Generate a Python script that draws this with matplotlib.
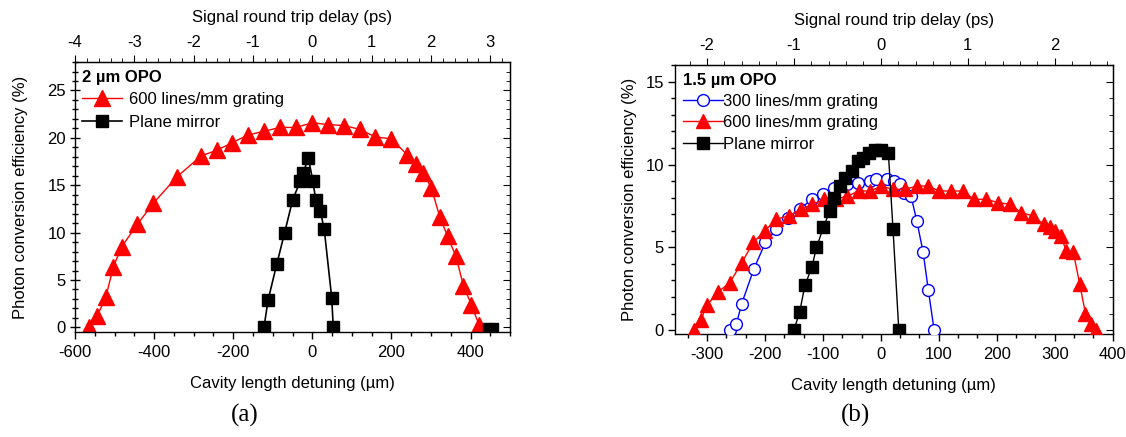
import matplotlib
matplotlib.use("Agg")
import matplotlib.pyplot as plt
from matplotlib.ticker import MultipleLocator, AutoMinorLocator, FixedLocator

plt.rcParams['font.family'] = ['Liberation Sans', 'DejaVu Sans']
plt.rcParams['font.size'] = 12
plt.rcParams['axes.unicode_minus'] = False

# ---- Panel (a): 2 um OPO ----
a_grating_x = [-565, -544, -522, -503, -482, -442, -402, -342, -281, -241, -202, -163, -122,
               -82, -41, 0, 39, 80, 120, 159, 200, 240, 261, 281, 301, 322, 342, 363, 382, 402, 422]
a_grating_y = [0.05, 1.2, 3.2, 6.4, 8.5, 10.9, 13.1, 15.9, 18.1, 18.7, 19.5, 20.3, 20.7,
               21.1, 21.1, 21.6, 21.4, 21.3, 20.9, 20.1, 19.9, 18.2, 17.2, 16.3, 14.7, 11.7, 9.6, 7.5, 4.4, 2.4, 0.2]
a_mirror_x = [-122, -112, -90, -70, -50, -31, -23, -10, 1, 9, 20, 30, 49, 53]
a_mirror_y = [0.05, 2.85, 6.65, 10.0, 13.4, 15.4, 16.3, 17.9, 15.5, 13.4, 12.3, 10.4, 3.15, 0.0]
a_extra_x = [441, 460]
a_extra_y = [0.0, 0.0]
a_top_ticks = [-4, -3, -2, -1, 0, 1, 2, 3]

# ---- Panel (b): 1.5 um OPO ----
b_g300_x = [-261, -249, -240, -219, -199, -180, -160, -140, -119, -99, -80, -59, -39, -19, -9,
            10, 23, 33, 40, 52, 62, 73, 82, 92]
b_g300_y = [0.0, 0.4, 1.6, 3.7, 5.3, 6.1, 6.8, 7.3, 7.9, 8.2, 8.6, 8.8, 8.9, 9.0, 9.1,
            9.1, 9.0, 8.8, 8.3, 8.1, 6.6, 4.7, 2.4, 0.0]
b_g600_x = [-323, -311, -300, -281, -261, -240, -220, -200, -180, -159, -138, -118, -98, -78,
            -58, -37, -18, 1, 21, 42, 62, 81, 101, 121, 141, 161, 182, 202, 222, 242, 262,
            281, 291, 300, 310, 320, 332, 343, 353, 362, 372]
b_g600_y = [0.04, 0.6, 1.5, 2.3, 2.85, 4.06, 5.3, 6.0, 6.7, 6.9, 7.3, 7.6, 7.9, 7.9,
            8.1, 8.4, 8.4, 8.7, 8.5, 8.5, 8.7, 8.7, 8.4, 8.4, 8.4, 7.9, 7.9, 7.7, 7.6, 7.1, 6.9,
            6.4, 6.2, 6.0, 5.7, 4.8, 4.7, 2.8, 1.0, 0.4, 0.0]
b_mirror_x = [-150, -140, -131, -119, -111, -99, -88, -80, -70, -62, -50, -39, -31, -20, -10,
              0, 13, 21, 31]
b_mirror_y = [0.0, 1.1, 2.7, 3.8, 5.0, 6.2, 7.2, 8.0, 8.7, 9.2, 9.6, 10.2, 10.4, 10.7, 10.9,
              10.9, 10.7, 6.1, 0.0]
b_top_ticks = [-2, -1, 0, 1, 2]

UM_PER_PS = 150.0

fig = plt.figure(figsize=(11.26, 4.37), dpi=100)
axA = fig.add_axes([0.0666, 0.240, 0.3864, 0.618])
axB = fig.add_axes([0.5995, 0.235, 0.3887, 0.616])


def style(ax, xmajor, xminor_n, ymajor, yminor, ylabelpad, top_ticks):
    ax.xaxis.set_major_locator(MultipleLocator(xmajor))
    ax.xaxis.set_minor_locator(AutoMinorLocator(xminor_n))
    ax.yaxis.set_major_locator(MultipleLocator(ymajor))
    ax.yaxis.set_minor_locator(MultipleLocator(yminor))
    ax.tick_params(axis='x', which='both', direction='out', top=False, bottom=True, pad=4)
    ax.tick_params(axis='y', which='both', direction='out', left=True, right=False, pad=3)
    ax.tick_params(which='major', length=5, width=1)
    ax.tick_params(which='minor', length=3, width=1)
    for s in ax.spines.values():
        s.set_linewidth(1.0)
    # inward ticks on the right spine
    ry = ax.secondary_yaxis('right')
    ry.yaxis.set_major_locator(MultipleLocator(ymajor))
    ry.yaxis.set_minor_locator(MultipleLocator(yminor))
    ry.tick_params(which='both', direction='in', labelright=False)
    ry.tick_params(which='major', length=5)
    ry.tick_params(which='minor', length=3)
    top = ax.secondary_xaxis('top', functions=(lambda x: x / UM_PER_PS, lambda x: x * UM_PER_PS))
    top.xaxis.set_major_locator(FixedLocator(top_ticks))
    top.xaxis.set_minor_locator(MultipleLocator(0.2))
    top.tick_params(which='both', direction='out', pad=4)
    top.tick_params(which='major', length=5)
    top.tick_params(which='minor', length=3)
    top.set_xlabel('Signal round trip delay (ps)', labelpad=9)
    ax.set_xlabel('Cavity length detuning (µm)', labelpad=12)
    ax.set_ylabel('Photon conversion efficiency (%)', labelpad=ylabelpad)


legend_kw = dict(loc='upper left', frameon=False, alignment='left',
                 title_fontproperties={'weight': 'bold', 'size': 12},
                 handlelength=2.4, borderpad=0.2, borderaxespad=0.25)

# Panel (a)
axA.plot(a_grating_x, a_grating_y, color='red', lw=1, marker='^', ms=12,
         mec='red', mfc='red', label='600 lines/mm grating')
axA.plot(a_mirror_x, a_mirror_y, color='black', lw=1.2, marker='s', ms=8,
         mec='black', mfc='black', label='Plane mirror')
axA.plot(a_extra_x, a_extra_y, ls='none', marker='s', ms=5.5, color='black')
axA.set_xlim(-600, 500)
axA.set_ylim(-0.5, 28)
style(axA, 200, 4, 5, 1, 14, a_top_ticks)
axA.tick_params(axis='y', which='both', direction='inout')
axA.tick_params(axis='y', which='major', length=7)
axA.tick_params(axis='y', which='minor', length=4)
axA.legend(title='2 µm OPO', handletextpad=0.4, labelspacing=0.45, **legend_kw)

# Panel (b)
axB.plot(b_g300_x, b_g300_y, color='blue', lw=1, marker='o', ms=8.5, mec='blue',
         mfc='white', mew=1, label='300 lines/mm grating', zorder=3)
axB.plot(b_g600_x, b_g600_y, color='red', lw=1, marker='^', ms=10.5, mec='red',
         mfc='red', label='600 lines/mm grating', zorder=4)
axB.plot(b_mirror_x, b_mirror_y, color='black', lw=1, marker='s', ms=9, mec='black',
         mfc='black', label='Plane mirror', zorder=5)
axB.set_xlim(-355, 400)
axB.set_ylim(-0.25, 16)
style(axB, 100, 3, 5, 1, 6, b_top_ticks)
axB.legend(title='1.5 µm OPO', handletextpad=0.0, labelspacing=0.38, **legend_kw)

fig.text(0.2175, 0.05, '(a)', family=['Liberation Serif', 'DejaVu Serif'], fontsize=18,
         ha='center', va='center')
fig.text(0.7595, 0.05, '(b)', family=['Liberation Serif', 'DejaVu Serif'], fontsize=18,
         ha='center', va='center')

fig.savefig('out.png', dpi=100)
